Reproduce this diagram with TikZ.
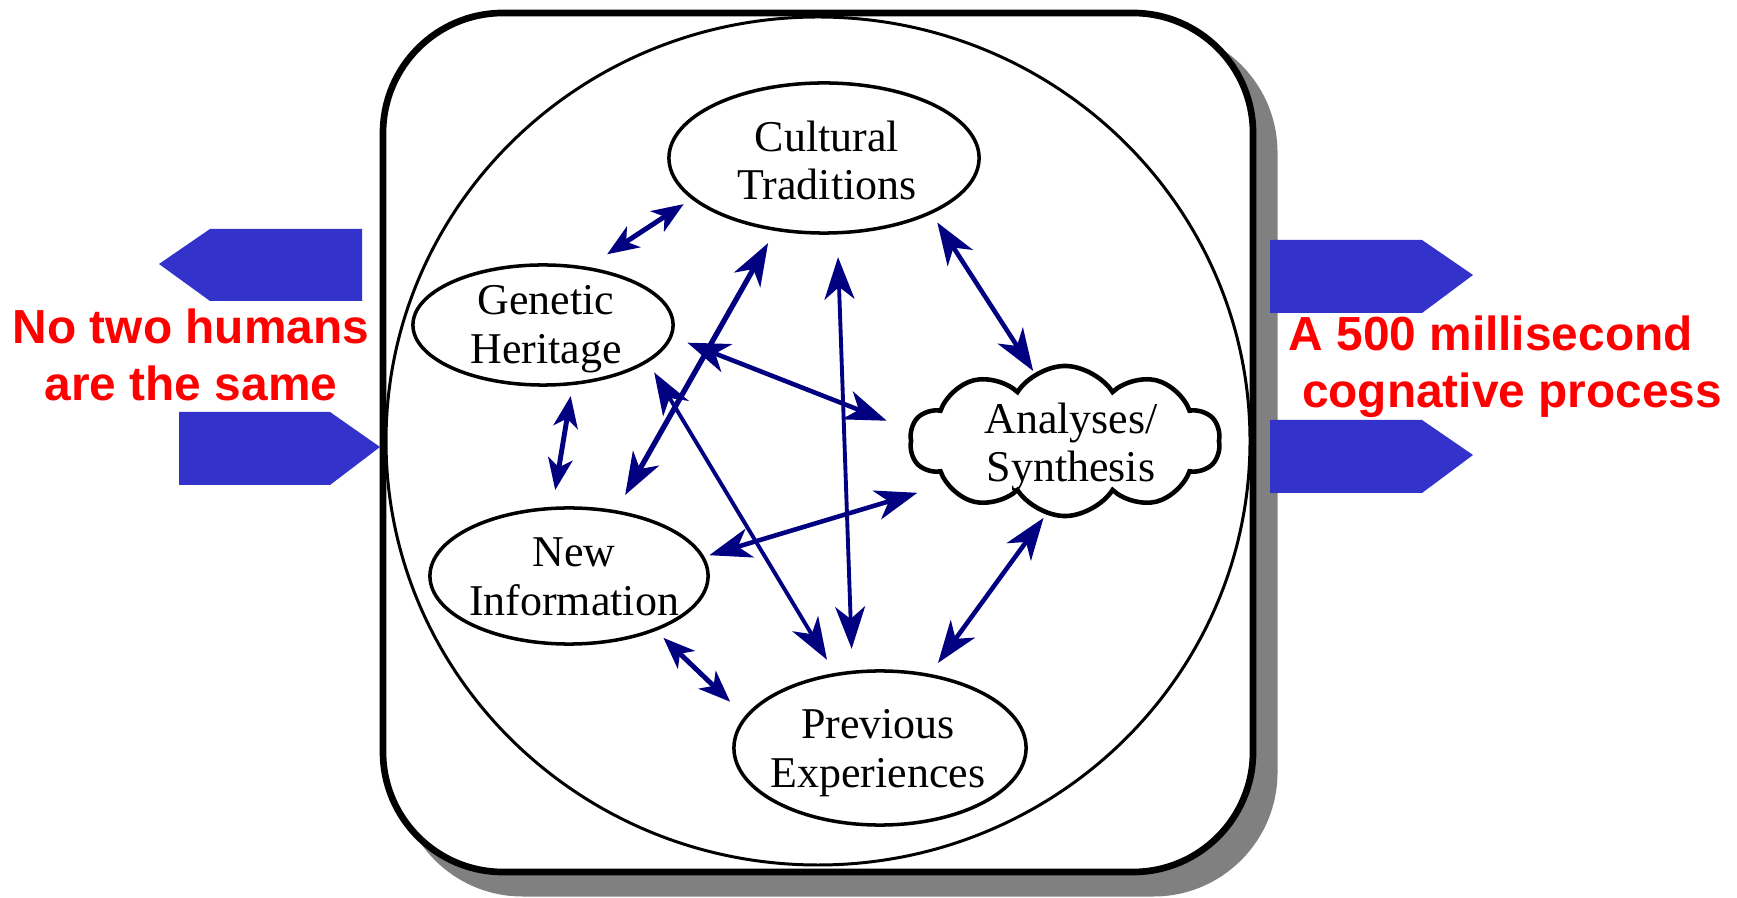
\documentclass[tikz,border=0pt]{standalone}
\usepackage{fontspec}
\setmainfont{Liberation Serif}
\newfontfamily\labelsans{Liberation Sans}
\usetikzlibrary{shapes.geometric,shapes.symbols,arrows.meta}
\definecolor{navyblue}{RGB}{0,0,128}
\definecolor{padblue}{RGB}{51,51,204}
\definecolor{shadowgray}{RGB}{128,128,128}
\tikzset{
  bub/.style={ellipse, draw, line width=1pt, outer sep=0pt, inner sep=0pt},
  txt/.style={font=\fontsize{12.5}{13.9}\selectfont, align=center, inner sep=0pt},
  redlbl/.style={font=\labelsans\bfseries\fontsize{13.6}{16.2}\selectfont, text=red, inner sep=0pt},
  bighead/.style={navyblue, line width=1.1pt, {Stealth[length=12pt,width=8.5pt,inset=3.5pt]}-{Stealth[length=12pt,width=8.5pt,inset=3.5pt]}},
  smallhead/.style={navyblue, line width=1.4pt, {Stealth[length=9pt,width=7pt,inset=2.5pt]}-{Stealth[length=9pt,width=7pt,inset=2.5pt]}},
  pad/.style={fill=padblue}
}
\begin{document}
\begin{tikzpicture}[x=0.01cm,y=-0.01cm]
\useasboundingbox (0,0) rectangle (1737,898);
% shadow and frame
\fill[shadowgray, rounded corners=1.24cm] (398.5,28.5) rectangle (1277.5,896.5);
\draw[line width=1.9pt, fill=white, rounded corners=1.2cm] (383,13) rectangle (1253,872);
\draw[line width=0.85pt] (818,441) ellipse [x radius=432, y radius=424];
% side pads
\fill[pad] (362,229) -- (210,229) -- (159,264) -- (210,301) -- (362,301) -- cycle;
\fill[pad] (179,412) -- (330,412) -- (380,447) -- (330,485) -- (179,485) -- cycle;
\fill[pad] (1270,240) -- (1422,240) -- (1473,275) -- (1422,313) -- (1270,313) -- cycle;
\fill[pad] (1270,420) -- (1422,420) -- (1473,455) -- (1422,493) -- (1270,493) -- cycle;
% nodes
\node[bub, minimum width=3.10cm, minimum height=1.50cm] (CT) at (824,158) {};
\node[txt] (CTt) at (827,160.5) {Cultural\\Traditions};
\node[bub, minimum width=2.60cm, minimum height=1.20cm] (GH) at (543,325) {};
\node[txt] (GHt) at (546,329.5) {Genetic\\Heritage};
\node[bub, minimum width=2.78cm, minimum height=1.36cm] (NI) at (569,576) {};
\node[txt] (NIt) at (574,577) {New\\Information};
\node[bub, minimum width=2.92cm, minimum height=1.54cm] (PE) at (880,748) {};
\node[txt] (PEt) at (878,753) {Previous\\Experiences};
\node[cloud, draw, line width=1.3pt, cloud puffs=10, cloud puff arc=115, cloud ignores aspect,
      minimum width=3.1cm, minimum height=1.5cm, outer sep=0pt, inner sep=0pt] (AS) at (1065,441) {};
\node[txt] (ASt) at (1071,447) {Analyses/\\Synthesis};
% connectors
\draw[smallhead, shorten <=0.255cm, shorten >=0.11cm] (GH.53) -- (CT.-163.7);
\draw[smallhead, shorten <=0.127cm, shorten >=0.187cm] (GH.-63.6) -- (NI.104.9);
\draw[bighead, line width=1.5pt, shorten <=0.158cm, shorten >=0.194cm] (CT.-124) -- (NI.54.1);
\draw[bighead, line width=1.3pt, shorten <=0.178cm, shorten >=0.26cm] (GH.-5.1) -- (AS.176.5);
\draw[bighead, shorten <=0.134cm, shorten >=0.172cm] (GH.-19.5) -- (PE.121.6);
\draw[bighead, line width=1.3pt, shorten <=0.069cm, shorten >=0.31cm] (NI.8.1) -- (AS.-160.9);
\draw[bighead, shorten <=0.243cm, shorten >=0.235cm] (CT.-80) -- (PE.110.5);
\draw[bighead, line width=1.3pt, shorten <=0.12cm, shorten >=0.04cm] (CT.-27.6) -- (AS.114.4);
\draw[bighead, line width=1.3pt, shorten <=0.058cm, shorten >=0.153cm] (AS.-104.3) -- (PE.56.6);
\draw[smallhead, shorten <=0.12cm, shorten >=0.222cm] (NI.-32.2) -- (PE.167.1);
% side texts
\node[redlbl, align=center] (Lt) at (191,354.5) {No two humans\\are the same};
\node[redlbl, align=left, anchor=west] (Rt) at (1288,366.5) {A 500 millisecond\\\hspace*{0.278em}cognative process};
\end{tikzpicture}
\end{document}
